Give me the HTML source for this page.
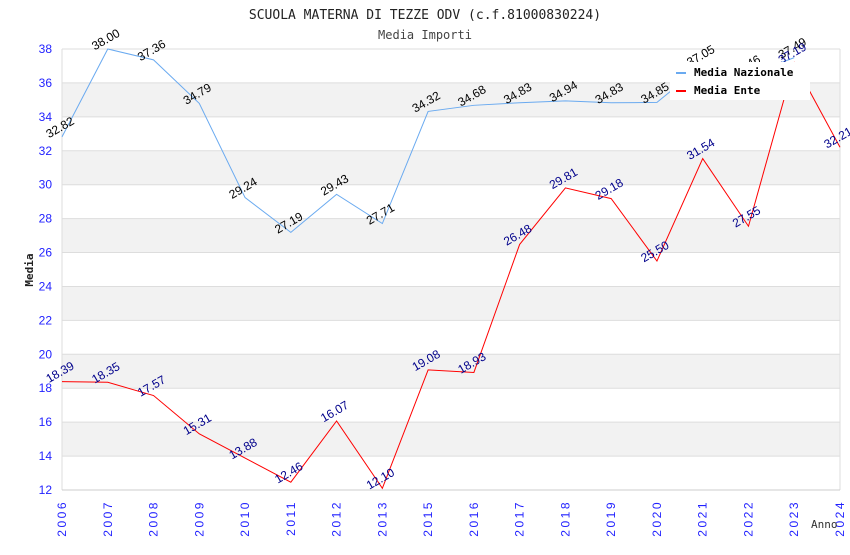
<!DOCTYPE html>
<html><head><meta charset="utf-8"><style>
body{margin:0;background:#fff}
svg{font-family:"DejaVu Sans Mono","Liberation Mono",monospace}
</style></head><body>
<svg id="c" width="850" height="550" xmlns="http://www.w3.org/2000/svg">
<text x="425" y="19" text-anchor="middle" font-size="13" fill="#222">SCUOLA MATERNA DI TEZZE ODV (c.f.81000830224)</text>
<text x="425" y="39" text-anchor="middle" font-size="12" fill="#444">Media Importi</text>
<g id="grid"></g><g id="series"></g><g id="labels"></g>
<text x="33" y="270" font-size="11" font-weight="bold" fill="#222" transform="rotate(-90 33 270)" text-anchor="middle">Media</text>
<text x="811" y="528" font-size="11" fill="#333">Anno</text>
<g>
<rect x="670" y="62" width="140" height="38" fill="#fff"/>
<line x1="676" y1="73" x2="686" y2="73" stroke="#6aaaf0" stroke-width="2"/>
<text x="694" y="76" font-size="11" font-weight="bold" fill="#000">Media Nazionale</text>
<line x1="676" y1="91" x2="686" y2="91" stroke="#f00" stroke-width="2"/>
<text x="694" y="94" font-size="11" font-weight="bold" fill="#000">Media Ente</text>
</g>
</svg>
<script>
const years=["2006","2007","2008","2009","2010","2011","2012","2013","2015","2016","2017","2018","2019","2020","2021","2022","2023","2024"];
const nazionale=[32.82,38.00,37.36,34.79,29.24,27.19,29.43,27.71,34.32,34.68,34.83,34.94,34.83,34.85,37.05,36.46,37.49];
const ente=[18.39,18.35,17.57,15.31,13.88,12.46,16.07,12.10,19.08,18.93,26.48,29.81,29.18,25.50,31.54,27.55,37.19,32.21];
const yTicks=[12,14,16,18,20,22,24,26,28,30,32,34,36,38];
const NS="http://www.w3.org/2000/svg";
const L=62,R=840,T=49,B=490,ymin=12,ymax=38;
const X=i=>L+i*(R-L)/(years.length-1);
const Y=v=>B-(v-ymin)*(B-T)/(ymax-ymin);
function mk(t,a,p){const e=document.createElementNS(NS,t);for(const k in a)e.setAttribute(k,a[k]);p.appendChild(e);return e;}
const g=document.getElementById('grid'),s=document.getElementById('series'),lb=document.getElementById('labels');
yTicks.forEach((v,i)=>{
 if(i<yTicks.length-1&&(v-14)%4===0){const r=mk('rect',{x:L,y:Y(v+2),width:R-L,height:Y(v)-Y(v+2),fill:'#f2f2f2'},g);
 
 }
 const l=mk('line',{x1:L,x2:R,y1:Y(v),y2:Y(v),stroke:'#ddd'},g);
 
 
 const t=mk('text',{x:L-10,y:Y(v)+4,'text-anchor':'end','font-size':12,fill:'#22f','font-family':'Liberation Sans, sans-serif'},g);t.textContent=v;
 
 
});
mk('line',{x1:L,x2:L,y1:T,y2:B,stroke:'#ddd'},g);
mk('line',{x1:R,x2:R,y1:T,y2:B,stroke:'#ddd'},g);
mk('line',{x1:L,x2:R,y1:B,y2:B,stroke:'#ccc'},g);
years.forEach((y,i)=>{const x=X(i)+4;const t=mk('text',{x:x,y:500,'font-size':12,'letter-spacing':'2.5','font-family':'Liberation Sans, sans-serif',fill:'#22f','text-anchor':'end',transform:`rotate(-90 ${x} 500)`},g);t.textContent=y;
 
 });
function series(arr,col,lc,name){
 const p=mk('polyline',{points:arr.map((v,i)=>X(i)+','+Y(v)).join(' '),fill:'none',stroke:col,'stroke-width':1},s);
 
 
 arr.forEach((v,i)=>{const x=X(i),y=Y(v)-6;const t=mk('text',{x:x,y:y,'font-size':12,'font-family':'Liberation Sans, sans-serif',fill:lc,'text-anchor':'middle',transform:`rotate(-30 ${x} ${y})`},lb);t.textContent=v.toFixed(2);
 
 });
}
series(nazionale,'#6aaaf0','#000','nazionale');
series(ente,'#f00','#00008b','ente');
</script>
</body></html>
